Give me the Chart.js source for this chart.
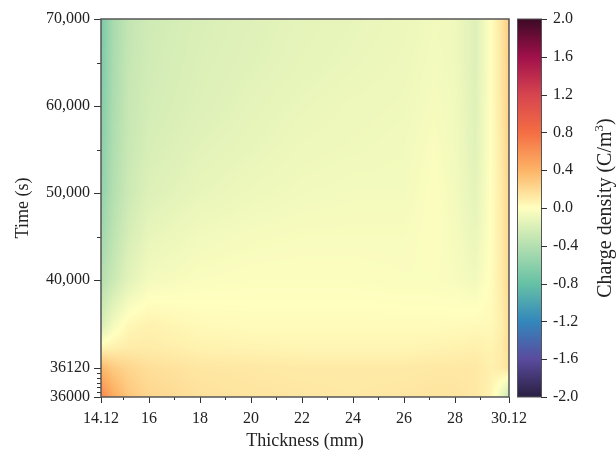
<!DOCTYPE html>
<html>
<head>
<meta charset="utf-8">
<script src="https://cdn.jsdelivr.net/npm/chart.js@4.4.0/dist/chart.umd.min.js"></script>
<style>
  html, body { margin: 0; padding: 0; background: #fff; }
  #wrap { width: 616px; height: 456px; position: relative; }
</style>
</head>
<body>
<div id="wrap"><canvas id="myChart"></canvas></div>
<script>
// measured columns (mm) and rows (s)
const thickness = [14.12, 14.6, 15.2, 16, 18, 20, 22, 24, 26, 27.2, 28, 28.8, 29.4, 29.8, 30.12];
const times = [36000, 36120, 37000, 38000, 40000, 45000, 50000, 55000, 60000, 65000, 70000];

// charge density (C/m3), one row per time, one value per thickness
const d36000 = [0.65, 0.45, 0.30, 0.22, 0.16, 0.14, 0.13, 0.12, 0.13, 0.14, 0.14, 0.12, 0.06, -0.10, -0.30];
const d36120 = [0.38, 0.28, 0.22, 0.17, 0.13, 0.12, 0.11, 0.11, 0.11, 0.12, 0.12, 0.12, 0.08, 0.10, 0.15];
const d37000 = [0.06, 0.08, 0.10, 0.10, 0.07, 0.06, 0.05, 0.05, 0.05, 0.06, 0.07, 0.08, 0.06, 0.10, 0.18];
const d38000 = [-0.22, -0.06, 0.04, 0.07, 0.03, 0.02, 0.02, 0.02, 0.02, 0.02, 0.02, 0.03, 0.03, 0.08, 0.18];
const d40000 = [-0.40, -0.28, -0.15, -0.06, -0.03, -0.02, -0.02, -0.02, -0.03, -0.03, -0.04, -0.07, 0.01, 0.10, 0.20];
const d45000 = [-0.50, -0.35, -0.22, -0.12, -0.07, -0.05, -0.04, -0.04, -0.04, -0.02, -0.05, -0.11, 0.00, 0.10, 0.21];
const d50000 = [-0.58, -0.40, -0.27, -0.18, -0.12, -0.09, -0.07, -0.06, -0.06, -0.02, -0.06, -0.14, 0.00, 0.10, 0.22];
const d55000 = [-0.62, -0.42, -0.29, -0.21, -0.15, -0.12, -0.09, -0.08, -0.07, -0.03, -0.07, -0.16, 0.00, 0.11, 0.24];
const d60000 = [-0.65, -0.44, -0.30, -0.23, -0.18, -0.14, -0.11, -0.09, -0.08, -0.05, -0.07, -0.17, 0.00, 0.12, 0.25];
const d65000 = [-0.68, -0.45, -0.31, -0.24, -0.19, -0.16, -0.13, -0.11, -0.09, -0.06, -0.08, -0.18, 0.00, 0.12, 0.26];
const d70000 = [-0.70, -0.46, -0.32, -0.25, -0.20, -0.17, -0.14, -0.12, -0.10, -0.07, -0.08, -0.18, 0.00, 0.13, 0.27];
const density = [d36000, d36120, d37000, d38000, d40000, d45000, d50000, d55000, d60000, d65000, d70000];

// axis ticks
const xTicks = [14.12, 16, 18, 20, 22, 24, 26, 28, 30.12];
const xTickLabels = ['14.12', '16', '18', '20', '22', '24', '26', '28', '30.12'];
const xMinorTicks = [15, 17, 19, 21, 23, 25, 27, 29];
const yTicks = [36000, 36120, 40000, 50000, 60000, 70000];
const yTickLabels = ['36000', '36120', '40,000', '50,000', '60,000', '70,000'];
const yMinorTicks = [36020, 36040, 36060, 36080, 36100, 45000, 55000, 65000];
const cbTicks = [-2.0, -1.6, -1.2, -0.8, -0.4, 0.0, 0.4, 0.8, 1.2, 1.6, 2.0];
const cbTickLabels = ['-2.0', '-1.6', '-1.2', '-0.8', '-0.4', '0.0', '0.4', '0.8', '1.2', '1.6', '2.0'];

// colour map
const cmapValues = [-2.0, -1.6, -1.2, -0.8, -0.4, 0.0, 0.4, 0.8, 1.2, 1.6, 2.0];
const cmapColors = ['#2a1f42', '#5a4b9e', '#3387bc', '#66c1a5', '#b4dfb0', '#ffffbf',
                    '#fdb466', '#f46d43', '#d6444f', '#a0104a', '#3c0a26'];

// the time axis is broken in three linear pieces
const timeBreaks = [36000, 36120, 40000, 70000];
const breakFrac = [0, 0.0767, 0.3095, 1];

function timeToAxis(t) {
    let k = 0;
    while (k < timeBreaks.length - 2 && t > timeBreaks[k + 1]) k++;
    const f = (t - timeBreaks[k]) / (timeBreaks[k + 1] - timeBreaks[k]);
    return breakFrac[k] + f * (breakFrac[k + 1] - breakFrac[k]);
}

function hexToRgb(h) {
    return [parseInt(h.slice(1, 3), 16), parseInt(h.slice(3, 5), 16), parseInt(h.slice(5, 7), 16)];
}
const cmapRgb = cmapColors.map(hexToRgb);

function colorFor(v) {
    if (v <= cmapValues[0]) return cmapRgb[0];
    let k = 0;
    while (k < cmapValues.length - 2 && v > cmapValues[k + 1]) k++;
    let f = (v - cmapValues[k]) / (cmapValues[k + 1] - cmapValues[k]);
    f = Math.min(1, Math.max(0, f));
    const a = cmapRgb[k], b = cmapRgb[k + 1];
    return [a[0] + (b[0] - a[0]) * f, a[1] + (b[1] - a[1]) * f, a[2] + (b[2] - a[2]) * f];
}

function locate(arr, v) {
    let i = 0;
    while (i < arr.length - 2 && v > arr[i + 1]) i++;
    let f = (v - arr[i]) / (arr[i + 1] - arr[i]);
    return [i, Math.min(1, Math.max(0, f))];
}

const family = "'Liberation Serif', 'Times New Roman', serif";
const tickFont = { family: family, size: 16 };
const titleFont = { family: family, size: 18 };
const ink = '#222';

const heatmap = {
    id: 'heatmap',
    beforeDatasetsDraw(chart) {
        const { ctx, chartArea: a, scales: { x, y } } = chart;
        const left = Math.round(a.left), top = Math.round(a.top);
        const w = Math.round(a.right) - left, h = Math.round(a.bottom) - top;
        const img = ctx.createImageData(w, h);
        const rowPos = times.map(timeToAxis);
        const cols = [];
        for (let px = 0; px < w; px++) {
            cols.push(locate(thickness, x.getValueForPixel(left + px + 0.5)));
        }
        for (let py = 0; py < h; py++) {
            const [j, fy] = locate(rowPos, y.getValueForPixel(top + py + 0.5));
            const r0 = density[j], r1 = density[j + 1];
            for (let px = 0; px < w; px++) {
                const [i, fx] = cols[px];
                const v0 = r0[i] + (r0[i + 1] - r0[i]) * fx;
                const v1 = r1[i] + (r1[i + 1] - r1[i]) * fx;
                const c = colorFor(v0 + (v1 - v0) * fy);
                const k = (py * w + px) * 4;
                img.data[k] = c[0];
                img.data[k + 1] = c[1];
                img.data[k + 2] = c[2];
                img.data[k + 3] = 255;
            }
        }
        ctx.putImageData(img, left, top);
    }
};

const axesDecor = {
    id: 'axesDecor',
    afterDraw(chart) {
        const { ctx, chartArea: a, scales: { x, y, cb } } = chart;
        ctx.save();
        ctx.strokeStyle = '#333';
        ctx.lineWidth = 1;

        // x ticks
        ctx.beginPath();
        xTicks.forEach(v => { const p = Math.round(x.getPixelForValue(v)) + 0.5; ctx.moveTo(p, a.bottom); ctx.lineTo(p, a.bottom + 6); });
        xMinorTicks.forEach(v => { const p = Math.round(x.getPixelForValue(v)) + 0.5; ctx.moveTo(p, a.bottom); ctx.lineTo(p, a.bottom + 3); });
        // y ticks
        yTicks.forEach(t => { const p = Math.round(y.getPixelForValue(timeToAxis(t))) + 0.5; ctx.moveTo(a.left, p); ctx.lineTo(a.left - 7, p); });
        yMinorTicks.forEach(t => { const p = Math.round(y.getPixelForValue(timeToAxis(t))) + 0.5; ctx.moveTo(a.left, p); ctx.lineTo(a.left - 4, p); });
        ctx.stroke();

        // frame
        ctx.strokeStyle = '#555';
        ctx.lineWidth = 1.5;
        ctx.strokeRect(a.left, a.top, a.right - a.left, a.bottom - a.top);

        // colour bar
        const bx0 = cb.left + 8, bx1 = cb.left + 32;
        const yTop = cb.getPixelForValue(2), yBot = cb.getPixelForValue(-2);
        const grad = ctx.createLinearGradient(0, yBot, 0, yTop);
        cmapValues.forEach((v, i) => grad.addColorStop((v + 2) / 4, cmapColors[i]));
        ctx.fillStyle = grad;
        ctx.fillRect(bx0, yTop, bx1 - bx0, yBot - yTop);
        ctx.strokeStyle = '#555';
        ctx.lineWidth = 1;
        ctx.strokeRect(bx0 + 0.5, yTop, bx1 - bx0, yBot - yTop);
        ctx.strokeStyle = '#333';
        ctx.beginPath();
        cbTicks.forEach(v => { const p = Math.round(cb.getPixelForValue(v)) + 0.5; ctx.moveTo(bx1, p); ctx.lineTo(bx1 + 6, p); });
        ctx.stroke();

        // colour bar title, with a raised 3
        const main = 'Charge density (C/m', sup = '3', tail = ')';
        const bigFont = `20px ${family}`, supFont = `13px ${family}`;
        ctx.font = bigFont;
        const wMain = ctx.measureText(main).width, wTail = ctx.measureText(tail).width;
        ctx.font = supFont;
        const wSup = ctx.measureText(sup).width;
        const total = wMain + wSup + wTail;
        ctx.fillStyle = ink;
        ctx.textAlign = 'left';
        ctx.textBaseline = 'alphabetic';
        ctx.translate(611, (yTop + yBot) / 2);
        ctx.rotate(-Math.PI / 2);
        ctx.font = bigFont;
        ctx.fillText(main, -total / 2, 0);
        ctx.font = supFont;
        ctx.fillText(sup, -total / 2 + wMain, -8);
        ctx.font = bigFont;
        ctx.fillText(tail, -total / 2 + wMain + wSup, 0);
        ctx.restore();
    }
};

const points = [];
times.forEach((t, j) => thickness.forEach((th, i) => points.push({ x: th, y: timeToAxis(t), v: density[j][i] })));

const config = {
    type: 'scatter',
    data: { datasets: [{ data: points, pointRadius: 0, showLine: false }] },
    options: {
        responsive: true,
        maintainAspectRatio: false,
        animation: false,
        events: [],
        layout: { padding: { top: 19, left: 0, right: 0, bottom: 0 } },
        plugins: { legend: { display: false }, tooltip: { enabled: false } },
        scales: {
            x: {
                type: 'linear', min: 14.12, max: 30.12,
                afterBuildTicks: s => { s.ticks = xTicks.map(v => ({ value: v })); },
                afterFit: s => { s.height = 59; },
                grid: { display: false, drawTicks: false },
                border: { display: false },
                ticks: { padding: 12, color: ink, font: tickFont, maxRotation: 0, autoSkip: false,
                         callback: (v, i) => xTickLabels[i] },
                title: { display: true, text: 'Thickness (mm)', color: ink, font: titleFont, padding: { top: 2, bottom: 4 } }
            },
            y: {
                type: 'linear', min: 0, max: 1,
                afterBuildTicks: s => { s.ticks = yTicks.map(t => ({ value: timeToAxis(t) })); },
                afterFit: s => { s.width = 101; s.paddingTop = 0; s.paddingBottom = 0; },
                grid: { display: false, drawTicks: false },
                border: { display: false },
                ticks: { padding: 11, color: ink, font: tickFont, autoSkip: false,
                         callback: (v, i) => yTickLabels[i] },
                title: { display: true, text: 'Time (s)', color: ink, font: titleFont, padding: { top: 12, bottom: 0 } }
            },
            cb: {
                type: 'linear', position: 'right', min: -2, max: 2,
                afterBuildTicks: s => { s.ticks = cbTicks.map(v => ({ value: v })); },
                afterFit: s => { s.width = 107; s.paddingTop = 0; s.paddingBottom = 0; },
                grid: { display: false, drawTicks: false },
                border: { display: false },
                ticks: { padding: 44, color: ink, font: tickFont, autoSkip: false,
                         callback: (v, i) => cbTickLabels[i] }
            }
        }
    },
    plugins: [heatmap, axesDecor]
};

const myChart = new Chart(document.getElementById('myChart'), config);
</script>
</body>
</html>
